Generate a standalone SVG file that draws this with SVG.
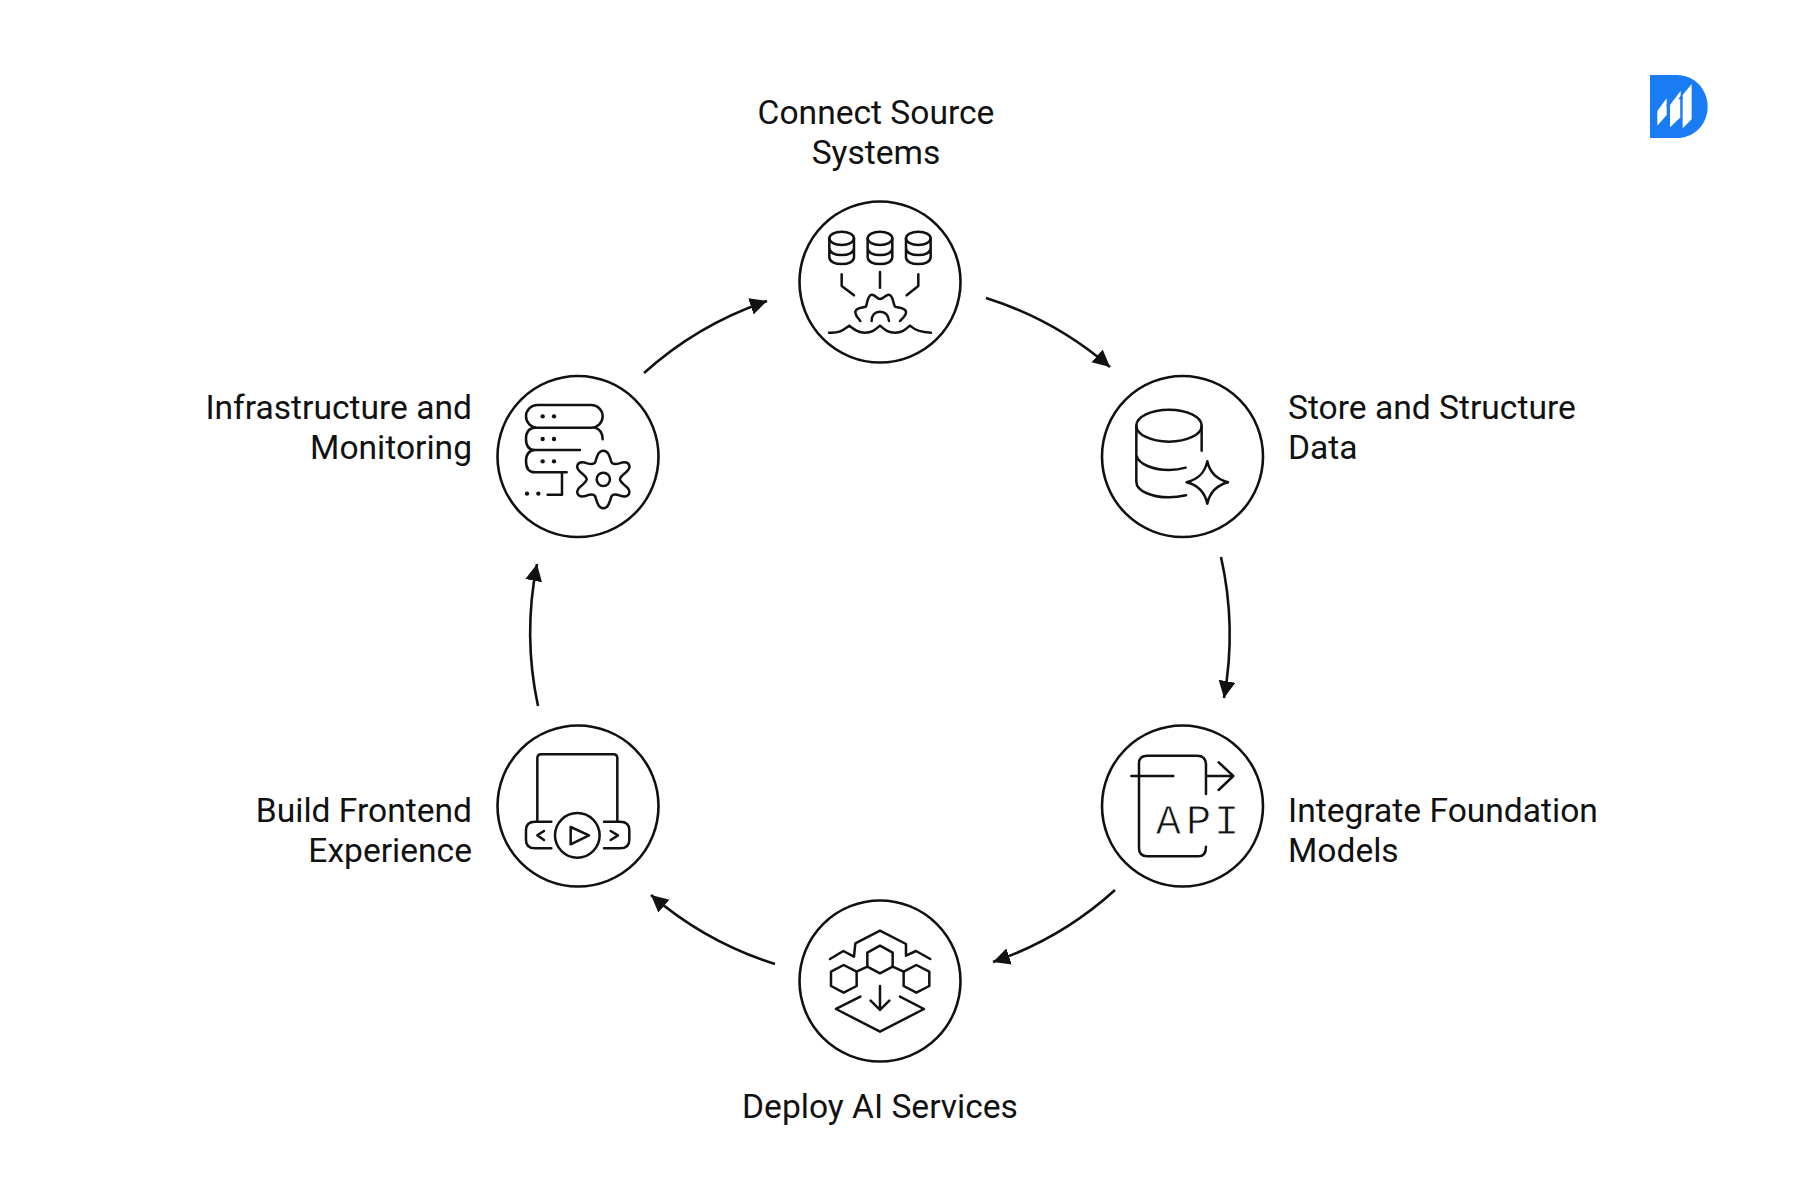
<svg xmlns="http://www.w3.org/2000/svg" width="1800" height="1199" viewBox="0 0 1800 1199">
<style>
.bg{fill:#fff}
.ring{fill:none;stroke:#111;stroke-width:2.6}
.ic{fill:none;stroke:#111;stroke-width:7.5;stroke-linecap:round;stroke-linejoin:round}
.dot{fill:#111}
.lb{font-family:Roboto,"Liberation Sans",sans-serif;font-size:33.6px;fill:#111}
.api{font-family:"Liberation Mono",monospace;font-size:126px;fill:#111;stroke:#fff;stroke-width:2.5}
.arc{fill:none;stroke:#111;stroke-width:2.6;marker-end:url(#ah)}
</style>
<defs>
<marker id="ah" markerUnits="userSpaceOnUse" markerWidth="20" markerHeight="18" refX="17" refY="8.5" orient="auto"><path d="M0 0L17 8.5L0 17Z" fill="#111"/></marker>
</defs>
<rect class="bg" width="1800" height="1199"/>
<g id="connectors">
<path class="arc" d="M986 298A350 350 0 0 1 1110 367"/>
<path class="arc" d="M1221 557A355 355 0 0 1 1224 698"/>
<path class="arc" d="M1115 890A350 350 0 0 1 993 962"/>
<path class="arc" d="M775 964A350 350 0 0 1 651 895"/>
<path class="arc" d="M538 706A350 350 0 0 1 537 564"/>
<path class="arc" d="M644 373A350 350 0 0 1 767 301"/>
</g>
<g id="connect-source-systems">
<circle class="ring" cx="880" cy="282" r="80.5"/>
<text class="lb" x="876" y="124" text-anchor="middle">Connect Source</text>
<text class="lb" x="876" y="164" text-anchor="middle">Systems</text>
<g transform="translate(780 180) scale(.3333)">
<ellipse class="ic" cx="185" cy="175" rx="37" ry="20"/><path class="ic" d="M148 175V232C148 245 165 252 185 252S222 245 222 232V175M148 205C148 218 165 225 185 225S222 218 222 205"/>
<ellipse class="ic" cx="300" cy="175" rx="37" ry="20"/><path class="ic" d="M263 175V232C263 245 280 252 300 252S337 245 337 232V175M263 205C263 218 280 225 300 225S337 218 337 205"/>
<ellipse class="ic" cx="415" cy="175" rx="37" ry="20"/><path class="ic" d="M378 175V232C378 245 395 252 415 252S452 245 452 232V175M378 205C378 218 395 225 415 225S452 218 452 205"/>
<path class="ic" d="M185 283V318L222 346M300 276V323M415 283V318L380 346"/>
<path class="ic" d="M241 423C232 412 225 405 226 395C228 383 245 384 258 380C262 370 262 346 275 344C285 343 290 357 300 357C310 357 318 343 327 344C340 346 338 368 345 380C355 384 375 383 378 395C380 405 370 412 360 423M275 423C275 405 285 395 300 395S325 405 327 423"/>
<path class="ic" d="M147 458C180 460 190 450 208 437C225 450 235 458 255 458C275 458 285 450 300 437C315 450 325 458 345 458C365 458 375 450 390 437C405 450 420 458 453 458"/>
</g>
</g>
<g id="store-and-structure-data">
<circle class="ring" cx="1182.5" cy="456.5" r="80.5"/>
<text class="lb" x="1288" y="419">Store and Structure</text>
<text class="lb" x="1288" y="459">Data</text>
<g transform="translate(1090 360) scale(.3333)">
<ellipse class="ic" cx="237" cy="197" rx="98" ry="48"/>
<path class="ic" d="M139 197V365C139 395 190 412 237 412C255 412 270 410 288 406M335 197V272M139 285C145 315 195 330 237 330C255 330 270 328 287 323"/>
<path class="ic" d="M352 304C360 340 380 358 414 367C380 376 360 395 352 431C344 395 325 376 290 367C325 358 344 340 352 304Z"/>
</g>
</g>
<g id="integrate-foundation-models">
<circle class="ring" cx="1182.5" cy="806" r="80.5"/>
<text class="lb" x="1288" y="822">Integrate Foundation</text>
<text class="lb" x="1288" y="862">Models</text>
<g transform="translate(1090 710) scale(.3333)">
<path class="ic" d="M348 252V165Q348 137 322 137H172Q147 137 147 160V415Q147 439 172 439H325Q348 439 348 410M124 198H250M348 198H430M386 157L430 198L386 240"/>
<text class="api" x="197 288 372" y="372">API</text>
</g>
</g>
<g id="deploy-ai-services">
<circle class="ring" cx="880" cy="981" r="80.5"/>
<text class="lb" x="880" y="1118" text-anchor="middle">Deploy AI Services</text>
<g transform="translate(780 890) scale(.3333)">
<path class="ic" d="M150 207L190 183L222 200L226 160L300 122L378 162V197L408 183L451 207"/>
<path class="ic" d="M300 167L338 188V230L300 250L262 230V188Z"/>
<path class="ic" d="M191 225L230 245V288L191 308L153 288V245Z"/>
<path class="ic" d="M409 225L448 245V288L409 308L371 288V245Z"/>
<path class="ic" d="M230 245L262 230M338 230L371 245M300 288V360M272 332L300 360L328 332M241 320L168 357L300 425L432 357L360 320"/>
</g>
</g>
<g id="build-frontend-experience">
<circle class="ring" cx="578" cy="806" r="80.5"/>
<text class="lb" x="472" y="822" text-anchor="end">Build Frontend</text>
<text class="lb" x="472" y="862" text-anchor="end">Experience</text>
<g transform="translate(480 710) scale(.3333)">
<path class="ic" d="M172 332V145Q172 133 184 133H400Q412 133 412 145V332M214 335H165Q138 335 138 360V390Q138 415 165 415H214M372 335H420Q448 335 448 360V390Q448 415 420 415H372"/>
<circle class="ic" cx="292" cy="376" r="67"/>
<path class="ic" d="M272 351L327 376L272 403ZM192 363L172 376L192 390M392 363L414 376L392 390"/>
</g>
</g>
<g id="infrastructure-and-monitoring">
<circle class="ring" cx="578" cy="456.5" r="80.5"/>
<text class="lb" x="472" y="419" text-anchor="end">Infrastructure and</text>
<text class="lb" x="472" y="459" text-anchor="end">Monitoring</text>
<g transform="translate(480 360) scale(.3333)">
<rect class="ic" x="138" y="135" width="230" height="68" rx="34"/>
<path class="ic" d="M345 203Q368 210 368 238M165 203Q138 205 138 236Q138 270 165 270H300M165 270Q138 272 138 303Q138 337 165 337H260M246 338V404H203"/>
<circle class="dot" cx="188" cy="169" r="6.5"/><circle class="dot" cx="222" cy="169" r="6.5"/><circle class="dot" cx="188" cy="237" r="6.5"/><circle class="dot" cx="222" cy="237" r="6.5"/><circle class="dot" cx="188" cy="304" r="6.5"/><circle class="dot" cx="222" cy="304" r="6.5"/><circle class="dot" cx="141" cy="401" r="6.5"/><circle class="dot" cx="175" cy="401" r="6.5"/>
<path class="ic" d="M346 306C352 285 357 272 370 272C383 272 388 285 394 306C398 314 408 313 418 310C432 305 442 304 447 314C452 324 444 333 433 341C426 347 420 352 420 358C420 364 426 369 433 375C444 383 452 392 447 402C442 412 432 411 418 406C408 403 398 402 394 410C388 431 383 445 370 445C357 445 352 431 346 410C342 402 332 403 322 406C308 411 298 412 293 402C288 392 296 383 307 375C314 369 320 364 320 358C320 352 314 347 307 341C296 333 288 324 293 314C298 304 308 305 322 310C332 313 342 314 346 306Z"/>
<circle class="ic" cx="370" cy="358" r="20"/>
</g>
</g>
<g id="logo" transform="translate(1640 60) scale(.3333)">
<path fill="#1a7cf5" d="M30 45H110C165 45 203 90 203 140C203 190 165 234 110 234H30Z"/>
<path fill="#fff" d="M52 153L80 115V165L52 197ZM90 135L122 92V172L90 202ZM128 105L155 72V178L128 205Z"/>
<path fill="#1a7cf5" d="M83 175V138H78L85 127L92 138H87V175ZM121 172V118H115L123 106L130 118H125V172Z"/>
</g>
</svg>
